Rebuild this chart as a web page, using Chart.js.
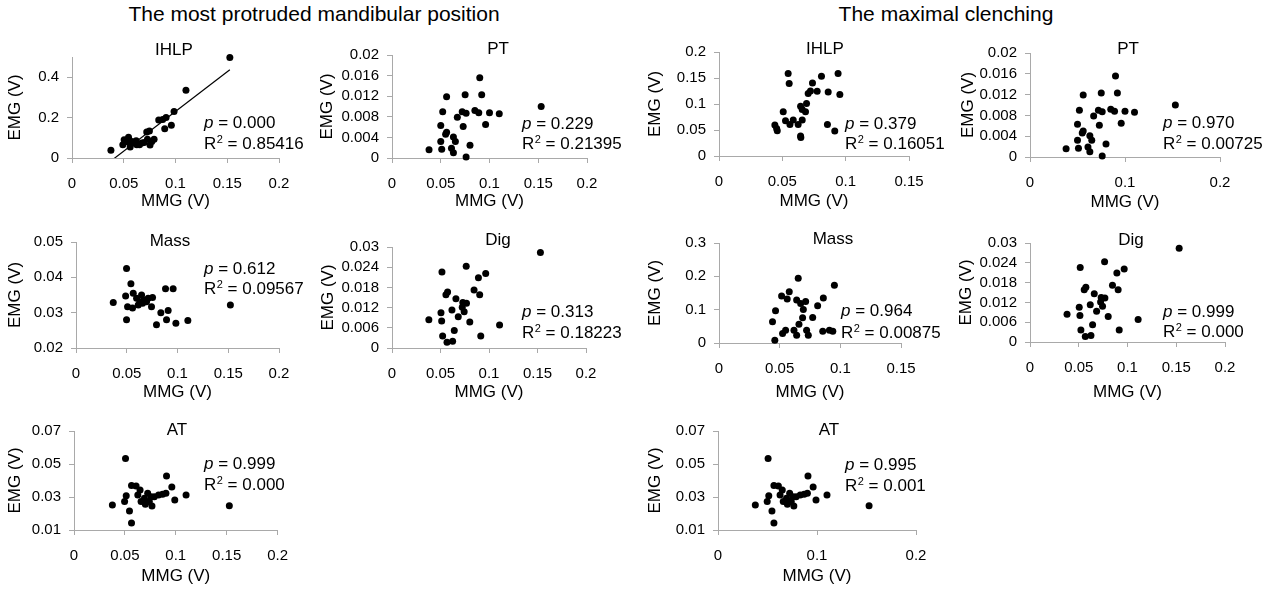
<!DOCTYPE html>
<html>
<head>
<meta charset="utf-8">
<title>MMG vs EMG</title>
<script src="https://cdn.jsdelivr.net/npm/chart.js@4.4.1/dist/chart.umd.min.js"></script>
<style>
    body {
        margin: 0;
        width: 1279px;
        height: 591px;
        position: relative;
        overflow: hidden;
        background: #fff;
        font-family: 'Liberation Sans', Arial, sans-serif;
    }
    .group-title {
        position: absolute;
        top: 2px;
        font-size: 21px;
        line-height: 24px;
        color: #000;
        white-space: nowrap;
        transform: translateX(-50%);
    }
    canvas {
        position: absolute;
    }
</style>
</head>
<body>
<div class="group-title" style="left:314px">The most protruded mandibular position</div>
<div class="group-title" style="left:946px">The maximal clenching</div>

<script>
// ---- Data: MMG (x) and EMG (y) per muscle, in volts ----
const protIhlpMMG = [0.0376, 0.1525, 0.1101, 0.0986, 0.0909, 0.0876, 0.0838, 0.0960, 0.0896, 0.0748, 0.0722, 0.0793, 0.0754, 0.0504,
    0.0491, 0.0546, 0.0562, 0.0620, 0.0652, 0.0697, 0.0594, 0.0530, 0.0729, 0.0674, 0.0626, 0.0578, 0.0771];
const protIhlpEMG = [0.038, 0.498, 0.335, 0.230, 0.201, 0.191, 0.188, 0.162, 0.145, 0.134, 0.129, 0.093, 0.064, 0.090,
    0.065, 0.103, 0.054, 0.085, 0.065, 0.077, 0.074, 0.080, 0.093, 0.074, 0.065, 0.082, 0.082];

const ptMMG = [0.038, 0.153, 0.090, 0.092, 0.075, 0.056, 0.052, 0.072, 0.076, 0.067, 0.085, 0.089, 0.100, 0.110,
    0.096, 0.073, 0.050, 0.056, 0.055, 0.063, 0.065, 0.050, 0.051, 0.061, 0.063, 0.080, 0.076];
const ptEMG = [0.0016, 0.0100, 0.0156, 0.0123, 0.0123, 0.0119, 0.0090, 0.0090, 0.0087, 0.0079, 0.0092, 0.0088, 0.0088, 0.0086,
    0.0065, 0.0061, 0.0063, 0.0050, 0.0046, 0.0041, 0.0032, 0.0032, 0.0017, 0.0019, 0.0010, 0.0025, 0.0002];

const protMassMMG = [0.0367, 0.1521, 0.0498, 0.0541, 0.0489, 0.0564, 0.0508, 0.0557, 0.0597, 0.0646, 0.0630, 0.0613, 0.0669, 0.0695,
    0.0711, 0.0754, 0.0744, 0.0656, 0.0882, 0.0957, 0.0836, 0.0908, 0.0892, 0.0793, 0.0984, 0.1102, 0.0498];
const protMassEMG = [0.0329, 0.0322, 0.0425, 0.0382, 0.0347, 0.0355, 0.0317, 0.0313, 0.0341, 0.0350, 0.0331, 0.0322, 0.0336, 0.0331,
    0.0341, 0.0343, 0.0317, 0.0327, 0.0368, 0.0368, 0.0300, 0.0306, 0.0280, 0.0266, 0.0270, 0.0278, 0.0280];

const digMMG = [0.038, 0.153, 0.0515, 0.0765, 0.0966, 0.0891, 0.0846, 0.0904, 0.0573, 0.0556, 0.0659, 0.0730, 0.0768, 0.0724,
    0.0618, 0.0744, 0.0505, 0.0683, 0.0512, 0.0802, 0.1109, 0.0642, 0.0522, 0.0915, 0.0625, 0.0567];
const digEMG = [0.0084, 0.0284, 0.0226, 0.0243, 0.0221, 0.0209, 0.0172, 0.0158, 0.0166, 0.0158, 0.0146, 0.0135, 0.0133, 0.0121,
    0.0113, 0.0108, 0.0105, 0.0093, 0.0080, 0.0077, 0.0068, 0.0052, 0.0036, 0.0036, 0.0020, 0.0017];

const atMMG = [0.0377, 0.1526, 0.0506, 0.0909, 0.0961, 0.1101, 0.0990, 0.0565, 0.0610, 0.0649, 0.0513, 0.0497, 0.0545, 0.0565,
    0.0627, 0.0659, 0.0692, 0.0724, 0.0756, 0.0740, 0.0766, 0.0789, 0.0831, 0.0870, 0.0903, 0.0701];
const atEMG = [0.0252, 0.0247, 0.0534, 0.0427, 0.0361, 0.0312, 0.0282, 0.0369, 0.0367, 0.0342, 0.0308, 0.0272, 0.0215, 0.0142,
    0.0312, 0.0272, 0.0292, 0.0322, 0.0302, 0.0272, 0.0245, 0.0302, 0.0312, 0.0316, 0.0322, 0.0256];

const clenIhlpMMG = [0.0546, 0.0554, 0.0940, 0.0809, 0.0738, 0.0722, 0.0704, 0.0775, 0.0862, 0.0954, 0.0691, 0.0644, 0.0657, 0.0683,
    0.0507, 0.0525, 0.0586, 0.0657, 0.0560, 0.0625, 0.0441, 0.0455, 0.0460, 0.0644, 0.0646, 0.0856, 0.0914];
const clenIhlpEMG = [0.1585, 0.1393, 0.1585, 0.1534, 0.1406, 0.1252, 0.1201, 0.1246, 0.1233, 0.1182, 0.1010, 0.0958, 0.0895, 0.0850,
    0.0850, 0.0677, 0.0690, 0.0690, 0.0607, 0.0607, 0.0594, 0.0530, 0.0486, 0.0383, 0.0358, 0.0607, 0.0479];

const clenMassMMG = [0.0460, 0.0441, 0.0466, 0.0516, 0.0579, 0.0562, 0.0653, 0.0640, 0.0673, 0.0714, 0.0695, 0.0813, 0.0860,
    0.0951, 0.0772, 0.0689, 0.0659, 0.0524, 0.0549, 0.0618, 0.0640, 0.0722, 0.0736, 0.0855, 0.0910, 0.0938];
const clenMassEMG = [0.0081, 0.0634, 0.0966, 0.1409, 0.1540, 0.1319, 0.1943, 0.1289, 0.1188, 0.1248, 0.1007, 0.1117, 0.1349,
    0.1731, 0.0765, 0.0755, 0.0564, 0.0282, 0.0383, 0.0383, 0.0232, 0.0383, 0.0232, 0.0352, 0.0383, 0.0352];

// ---- Stats shown in each panel ----
const panelNames = ['IHLP', 'PT', 'Mass', 'Dig', 'AT', 'IHLP', 'PT', 'Mass', 'Dig', 'AT'];
const pValues = ['0.000', '0.229', '0.612', '0.313', '0.999', '0.379', '0.970', '0.964', '0.999', '0.995'];
const r2Values = ['0.85416', '0.21395', '0.09567', '0.18223', '0.000', '0.16051', '0.00725', '0.00875', '0.000', '0.001'];

// ---- Tick values ----
const mmgTicks20 = [0, 0.05, 0.1, 0.15, 0.2];
const mmgTicks15 = [0, 0.05, 0.1, 0.15];
const mmgTicksWide = [0, 0.1, 0.2];
const ihlpProtTicks = [0, 0.2, 0.4];
const ptTicks = [0, 0.004, 0.008, 0.012, 0.016, 0.02];
const massProtTicks = [0.02, 0.03, 0.04, 0.05];
const digTicks = [0, 0.006, 0.012, 0.018, 0.024, 0.03];
const atTicks = [0.01, 0.03, 0.05, 0.07];
const ihlpClenTicks = [0, 0.05, 0.1, 0.15, 0.2];
const massClenTicks = [0, 0.1, 0.2, 0.3];

const FONT = "'Liberation Sans', Arial, sans-serif";
const AXIS_GREY = '#a9a9a9';

// Panel setup: plot box [left, top, right, bottom] in page pixels, plus text anchors
const panels = [
    { x: protIhlpMMG, y: protIhlpEMG, xTicks: mmgTicks20, yTicks: ihlpProtTicks, yMax: 0.5, trend: true,
      box: [72, 57, 279, 158], yTitleX: 15, xTitleY: 202, right: 312, title: [174, 50], note: [204, 122, 143] },
    { x: ptMMG, y: ptEMG, xTicks: mmgTicks20, yTicks: ptTicks,
      box: [392, 55, 587, 158], yTitleX: 327, xTitleY: 202, right: 632, title: [498, 49], note: [522, 123, 143] },
    { x: protMassMMG, y: protMassEMG, xTicks: mmgTicks20, yTicks: massProtTicks,
      box: [76, 242, 279, 348], yTitleX: 15, xTitleY: 393, right: 312, title: [170, 241], note: [204, 268, 288] },
    { x: digMMG, y: digEMG, xTicks: mmgTicks20, yTicks: digTicks,
      box: [392, 247, 586, 348], yTitleX: 328, xTitleY: 393, right: 632, title: [498, 240], note: [522, 311, 332] },
    { x: atMMG, y: atEMG, xTicks: mmgTicks20, yTicks: atTicks,
      box: [74, 431, 279, 530], yTitleX: 15, xTitleY: 577, right: 300, title: [177, 430], note: [204, 463, 484] },
    { x: clenIhlpMMG, y: clenIhlpEMG, xTicks: mmgTicks15, yTicks: ihlpClenTicks,
      box: [719, 52, 909, 156], yTitleX: 655, xTitleY: 202, right: 955, title: [825, 49], note: [845, 123, 143] },
    { x: ptMMG, y: ptEMG, xTicks: mmgTicksWide, yTicks: ptTicks,
      box: [1030, 53, 1220, 157], yTitleX: 968, xTitleY: 203, right: 1276, title: [1128, 49], note: [1163, 122, 143] },
    { x: clenMassMMG, y: clenMassEMG, xTicks: mmgTicks15, yTicks: massClenTicks,
      box: [719, 243, 901, 343], yTitleX: 655, xTitleY: 393, right: 955, title: [833, 239], note: [841, 310, 332] },
    { x: digMMG, y: digEMG, xTicks: mmgTicks20, yTicks: digTicks,
      box: [1030, 243, 1225, 342], yTitleX: 966, xTitleY: 393, right: 1262, title: [1131, 240], note: [1163, 311, 331] },
    { x: atMMG, y: atEMG, xTicks: mmgTicksWide, yTicks: atTicks,
      box: [718, 431, 916, 530], yTitleX: 655, xTitleY: 577, right: 955, title: [829, 430], note: [845, 464, 485] }
];

// Least-squares fit for the trend line
function linearFit(xs, ys) {
    const n = xs.length;
    const mx = xs.reduce((a, b) => a + b, 0) / n;
    const my = ys.reduce((a, b) => a + b, 0) / n;
    let sxy = 0, sxx = 0;
    for (let i = 0; i < n; i++) {
        sxy += (xs[i] - mx) * (ys[i] - my);
        sxx += (xs[i] - mx) * (xs[i] - mx);
    }
    const slope = sxy / sxx;
    return { slope, intercept: my - slope * mx };
}

// Draws the panel name and the p / R² lines
const panelText = {
    id: 'panelText',
    afterDraw(chart, args, o) {
        const ctx = chart.ctx;
        ctx.save();
        ctx.fillStyle = '#000';
        ctx.font = '17px ' + FONT;
        ctx.textAlign = 'center';
        ctx.textBaseline = 'middle';
        ctx.fillText(o.name, o.titleX, o.titleY);

        ctx.textAlign = 'left';
        ctx.textBaseline = 'alphabetic';
        let x = o.noteX;
        ctx.font = 'italic 17px ' + FONT;
        ctx.fillText('p', x, o.pY);
        x += ctx.measureText('p').width;
        ctx.font = '17px ' + FONT;
        ctx.fillText(' = ' + o.p, x, o.pY);

        x = o.noteX;
        ctx.fillText('R', x, o.rY);
        x += ctx.measureText('R').width + 0.5;
        ctx.font = '11px ' + FONT;
        ctx.fillText('2', x, o.rY - 6);
        x += ctx.measureText('2').width;
        ctx.font = '17px ' + FONT;
        ctx.fillText(' = ' + o.r2, x, o.rY);
        ctx.restore();
    }
};

function axisOptions(ticks, min, max, size, label, horizontal) {
    return {
        type: 'linear',
        min: min,
        max: max,
        afterBuildTicks: scale => { scale.ticks = ticks.map(v => ({ value: v })); },
        afterFit: scale => {
            if (horizontal) scale.height = size; else scale.width = size;
        },
        grid: { drawOnChartArea: false, drawTicks: true, tickLength: 5, color: AXIS_GREY },
        border: { color: AXIS_GREY, width: 1 },
        ticks: {
            color: '#000',
            font: { family: FONT, size: 15 },
            padding: horizontal ? 12 : 8,
            autoSkip: false,
            maxRotation: 0,
            callback: v => String(v)
        },
        title: {
            display: true,
            text: label,
            color: '#000',
            font: { family: FONT, size: 17 },
            padding: 0
        }
    };
}

function drawPanel(p, i) {
    const [L, T, R, B] = p.box;
    const left = p.yTitleX - 10;
    const top = T - 24;
    const bottom = p.xTitleY + 10;

    const canvas = document.createElement('canvas');
    canvas.width = p.right - left;
    canvas.height = bottom - top;
    canvas.style.left = left + 'px';
    canvas.style.top = top + 'px';
    document.body.appendChild(canvas);

    const datasets = [{
        type: 'scatter',
        data: p.x.map((v, k) => ({ x: v, y: p.y[k] })),
        backgroundColor: '#000',
        borderWidth: 0,
        pointRadius: 3.5,
        pointHoverRadius: 3.5,
        clip: false
    }];

    if (p.trend) {
        const fit = linearFit(p.x, p.y);
        const x0 = Math.min(...p.x), x1 = Math.max(...p.x);
        datasets.push({
            type: 'line',
            data: [{ x: x0, y: fit.slope * x0 + fit.intercept }, { x: x1, y: fit.slope * x1 + fit.intercept }],
            borderColor: '#000',
            borderWidth: 1.2,
            pointRadius: 0,
            fill: false
        });
    }

    const yMax = p.yMax !== undefined ? p.yMax : p.yTicks[p.yTicks.length - 1];

    new Chart(canvas, {
        type: 'scatter',
        data: { datasets: datasets },
        options: {
            responsive: false,
            animation: false,
            events: [],
            layout: { padding: { left: 0, top: T - top, right: p.right - R, bottom: 0 } },
            plugins: {
                legend: { display: false },
                tooltip: { enabled: false },
                panelText: {
                    name: panelNames[i],
                    p: pValues[i],
                    r2: r2Values[i],
                    titleX: p.title[0] - left,
                    titleY: p.title[1] - top,
                    noteX: p.note[0] - left,
                    pY: p.note[1] - top + 6,
                    rY: p.note[2] - top + 6
                }
            },
            scales: {
                x: axisOptions(p.xTicks, p.xTicks[0], p.xTicks[p.xTicks.length - 1], bottom - B, 'MMG (V)', true),
                y: axisOptions(p.yTicks, p.yTicks[0], yMax, L - left, 'EMG (V)', false)
            }
        },
        plugins: [panelText]
    });
}

panels.forEach(drawPanel);
</script>
</body>
</html>
